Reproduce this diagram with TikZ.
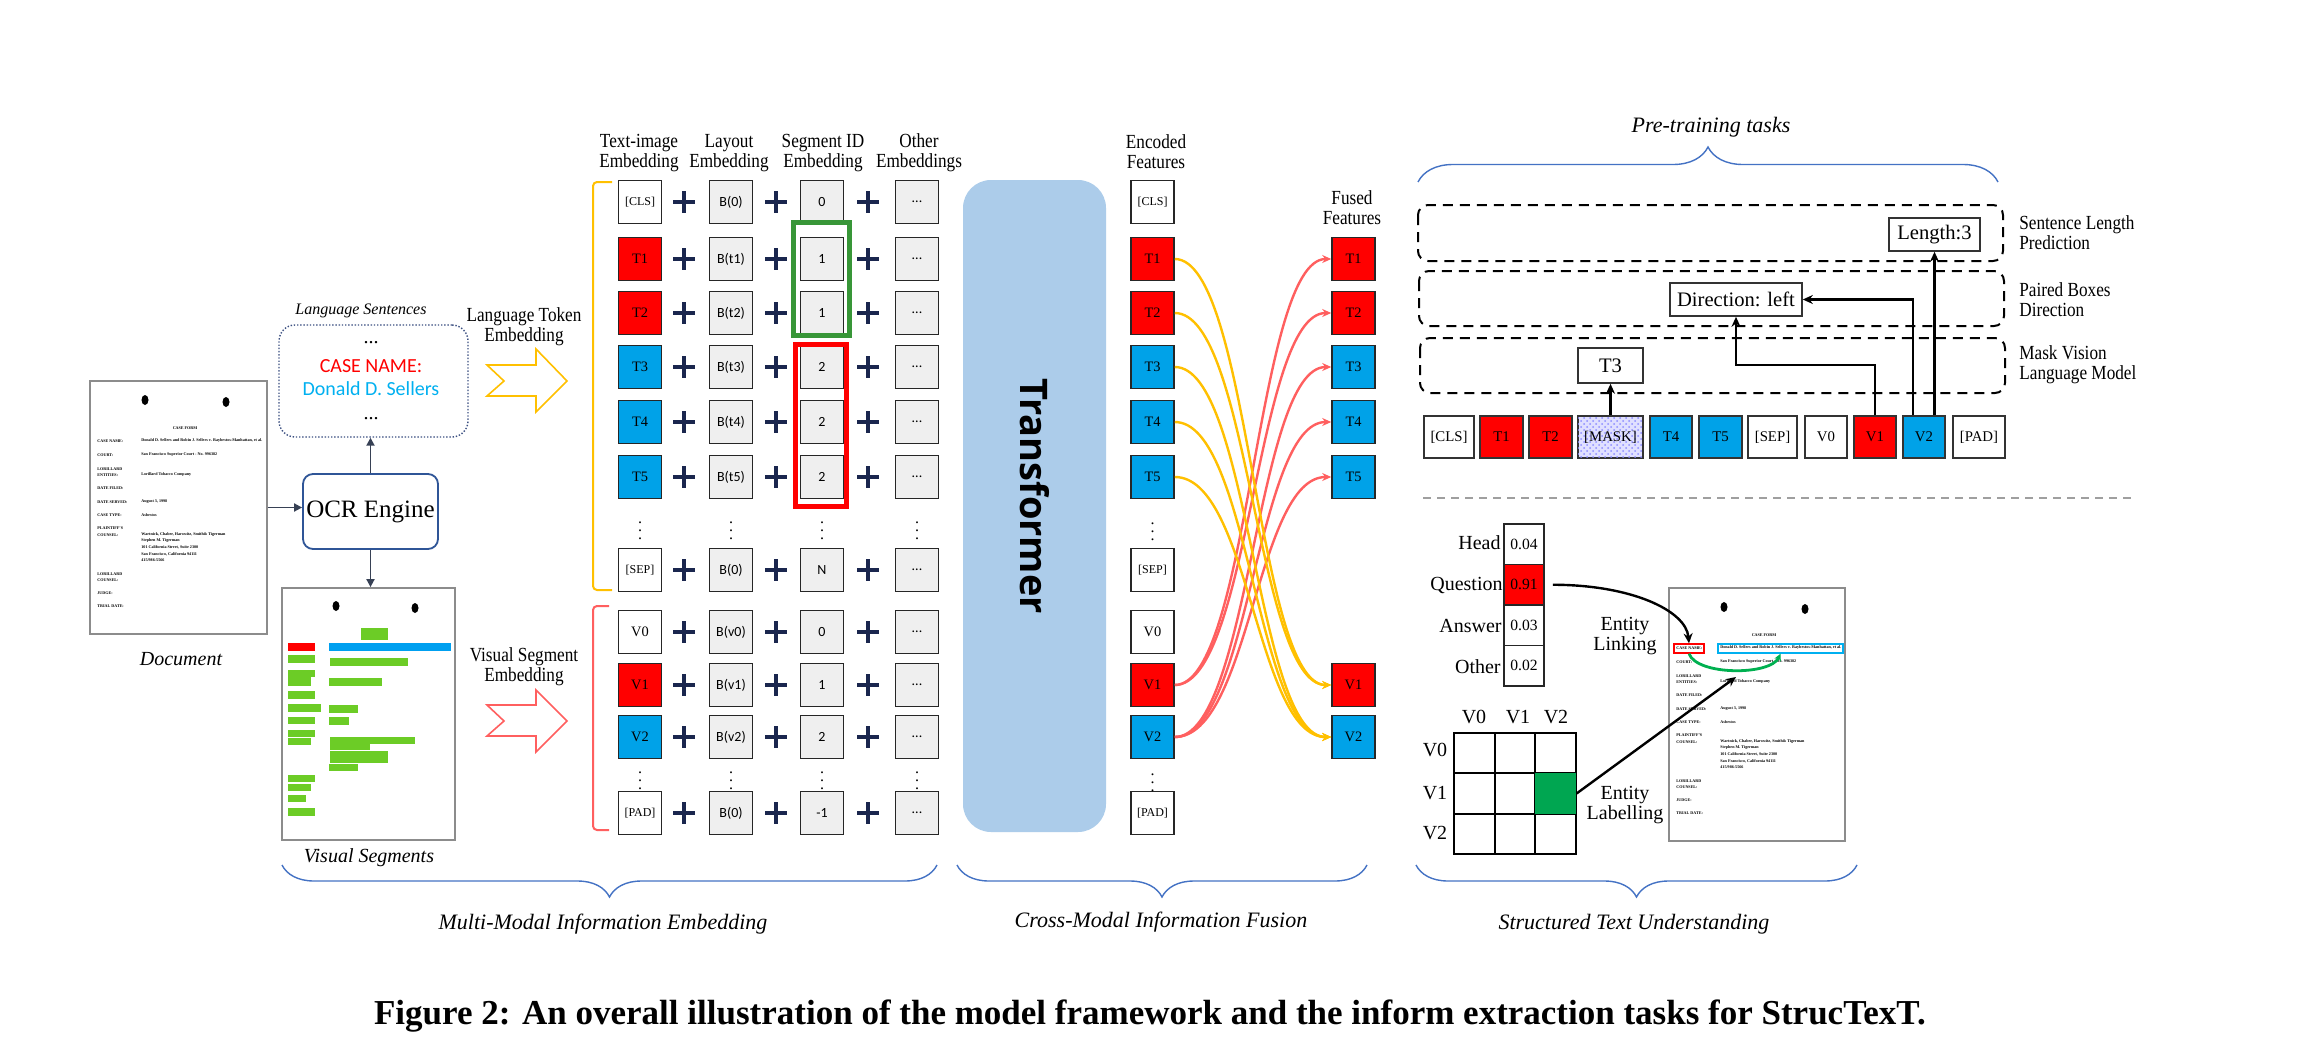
\documentclass[tikz,border=0pt]{standalone}
\usepackage{fontspec}
\setmainfont{Liberation Serif}
\newfontfamily\carlito{Carlito}
\newfontfamily\opensans{Open Sans}
\usetikzlibrary{arrows.meta,patterns,decorations.pathreplacing}

\definecolor{tokred}{RGB}{255,0,0}
\definecolor{tokblue}{RGB}{0,162,232}
\definecolor{boxgray}{RGB}{239,239,239}
\definecolor{plusnavy}{RGB}{26,38,78}
\definecolor{trblue}{RGB}{172,204,234}
\definecolor{amber}{RGB}{255,192,0}
\definecolor{salmon}{RGB}{255,95,95}
\definecolor{braceblue}{RGB}{68,114,196}
\definecolor{ocrblue}{RGB}{47,85,151}
\definecolor{slate}{RGB}{55,65,85}
\definecolor{seggreen}{RGB}{108,204,38}
\definecolor{segblue}{RGB}{0,160,240}
\definecolor{idgreen}{RGB}{56,150,56}
\definecolor{cellgreen}{RGB}{0,166,81}
\definecolor{linkgreen}{RGB}{0,176,80}
\definecolor{caseblue}{RGB}{0,176,240}
\definecolor{dotframe}{RGB}{60,80,130}

\newcommand\fs[1]{\fontsize{#1}{#1}\selectfont}

% one row of the embedding sum: token + layout + segment id + other
\newcommand\embrow[6]{%
  \node[tok, fill=#4] (t-#1) at (640,#2) {#3};
  \pic at (684,#2) {plus};
  \node[gbox] (l-#1) at (731,#2) {B(#5)};
  \pic at (776,#2) {plus};
  \node[gbox] (s-#1) at (822,#2) {#6};
  \pic at (868,#2) {plus};
  \node[gbox] (o-#1) at (917,#2) {...};
}
\newcommand\enc[4]{\node[tok, fill=#4] (e-#1) at (1152.5,#2) {#3};}
\newcommand\fus[4]{\node[tok, fill=#4] (f-#1) at (1353.5,#2) {#3};}

% scanned case form, drawn relative to its top-left corner
\newcommand\casedoc{%
  \fill (55,19) ellipse [x radius=3.5, y radius=5];
  \fill (136,21) ellipse [x radius=3.5, y radius=5];
  \node[doctxt, anchor=center] (hd) at (95,47) {CASE FORM};
  \node[doctxt] (k1) at (7,60) {CASE NAME:};
  \node[doctxt] (v1) at (51,60) {Donald D. Sellers and Robin J. Sellers v. Raybestos-Manhattan, et al.};
  \node[doctxt] (k2) at (7,74) {COURT:};
  \node[doctxt] (v2) at (51,74) {San Francisco Superior Court - No. 996382};
  \node[doctxt] (k3) at (7,88) {LORILLARD};
  \node[doctxt] (k4) at (7,94) {ENTITIES:};
  \node[doctxt] (v3) at (51,94) {Lorillard Tobacco Company};
  \node[doctxt] (k5) at (7,107) {DATE FILED:};
  \node[doctxt] (k6) at (7,121) {DATE SERVED:};
  \node[doctxt] (v4) at (51,121) {August 3, 1998};
  \node[doctxt] (k7) at (7,134) {CASE TYPE:};
  \node[doctxt] (v5) at (51,134) {Asbestos};
  \node[doctxt] (k8) at (7,147) {PLAINTIFF'S};
  \node[doctxt] (k9) at (7,154) {COUNSEL:};
  \node[doctxt] (v6) at (51,154) {Wartnick, Chaber, Harowitz, Smith\& Tigerman};
  \node[doctxt] (v7) at (51,160) {Stephen M. Tigerman};
  \node[doctxt] (v8) at (51,166) {101 California Street, Suite 2300};
  \node[doctxt] (v9) at (51,173) {San Francisco, California 94111};
  \node[doctxt] (v10) at (51,179) {415/986-5566};
  \node[doctxt] (k10) at (7,193) {LORILLARD};
  \node[doctxt] (k11) at (7,199) {COUNSEL:};
  \node[doctxt] (k12) at (7,212) {JUDGE:};
  \node[doctxt] (k13) at (7,225) {TRIAL DATE:};
}

\begin{document}
\begin{tikzpicture}[x=0.5pt,y=-0.5pt,
  lbl/.style={align=center, inner sep=0pt, font=\fs{10}, xscale=0.86},
  ital/.style={inner sep=0pt, font=\itshape\fs{11}},
  tok/.style={draw=black!85, line width=0.8pt, minimum width=21.5pt, minimum height=21.5pt, inner sep=0pt, font=\fs{7.2}},
  gbox/.style={tok, fill=boxgray, font=\carlito\fs{7}},
  ptok/.style={draw=black!80, line width=0.8pt, minimum height=21pt, inner sep=0pt, font=\fs{7.4}},
  pbox/.style={draw=black!80, line width=0.8pt, inner sep=0pt, fill=white, font=\fs{10.3}},
  parr/.style={draw=black, line width=1.2pt, -{Stealth[length=5pt,width=4.5pt]}},
  dbox/.style={draw=black, line width=1pt, dash pattern=on 5pt off 3.5pt, rounded corners=5pt},
  conn/.style={draw=slate, line width=0.9pt, -{Triangle[length=4pt,width=4pt]}},
  fuse/.style={line width=1.2pt, -{Stealth[length=4.5pt,width=4pt]}},
  brc/.style={draw=braceblue, line width=0.7pt, decorate},
  doctxt/.style={anchor=west, inner sep=0pt, font=\bfseries\fs{2.05}},
  docframe/.style={draw=black!45, line width=0.9pt, fill=white, inner sep=0pt},
  cls/.style={draw=black!85, line width=0.8pt, minimum width=20pt, minimum height=20.25pt, inner sep=0pt, font=\fs{7.8}},
  cell/.style={draw=black, line width=0.8pt, minimum size=20.25pt, inner sep=0pt},
  blk/.style={draw=black, line width=1.2pt, -{Stealth[length=5pt,width=4.5pt]}},
  plus/.pic={\draw[plusnavy, line width=1.6pt] (-11,0) -- (11,0) (0,-11) -- (0,11);}
]
\fill[white] (0,0) rectangle (2304,1060);
\useasboundingbox (0,0) rectangle (2304,1060);

% ---------------- input side ----------------
\node[docframe, minimum width=88.5pt, minimum height=126.5pt] (ldoc) at (178.5,507.5) {};
\begin{scope}[shift={(90,381)}, name prefix=ld-]
  \casedoc
\end{scope}
\node[ital, font=\itshape\fs{10}] (doclbl) at (181,659) {Document};

\node[draw=ocrblue, line width=0.9pt, rounded corners=5pt, minimum width=67.5pt, minimum height=37.5pt, inner sep=0pt, font=\fs{12.5}] (ocr) at (370.5,511.5) {OCR Engine};

\node[draw=dotframe, line width=0.7pt, dash pattern=on 0.7pt off 0.9pt, rounded corners=8pt, minimum width=94.5pt, minimum height=56pt] (lang) at (373.5,381) {};
\node[ital, font=\itshape\fs{8}] (langlbl) at (361,311) {Language Sentences};
\node[inner sep=0pt, font=\fs{10}] (ldots1) at (371,343) {...};
\node[inner sep=0pt, font=\carlito\fs{10}, text=red] (casename) at (371,366) {CASE NAME:};
\node[inner sep=0pt, font=\carlito\fs{10}, text=caseblue] (donald) at (371,389) {Donald D. Sellers};
\node[inner sep=0pt, font=\fs{10}] (ldots2) at (371,419) {...};

\node[docframe, minimum width=86.5pt, minimum height=126pt] (vis) at (368.5,714) {};
\node[ital, font=\itshape\fs{10}] (vislbl) at (369,858) {Visual Segments};
\fill (336,606) ellipse [x radius=3.5, y radius=5];
\fill (415,608) ellipse [x radius=3.5, y radius=5];
\foreach \a/\b/\c/\d in {361/628/388/640, 288/655/315/663, 288/670/315/677, 288/677/311/686,
  288/691/315/699, 288/704/321/712, 288/717/315/724, 288/730/315/737, 288/738/311/745,
  288/775/315/782, 288/784/311/791, 288/795/306/802, 288/808/315/816,
  330/658/408/666, 329/678/382/686, 329/705/358/713, 329/717/349/725,
  330/737/415/744, 330/744/370/750, 330/751/388/763, 329/764/358/771}
  \fill[seggreen] (\a,\b) rectangle (\c,\d);
\fill[red] (288,643) rectangle (315,651);
\fill[segblue] (329,643) rectangle (451,651);

\draw[conn] (ldoc.east) -- (ldoc.east -| ocr.west);
\draw[conn] (ocr.north) -- (ocr.north |- lang.south);
\draw[conn] (ocr.south) -- (ocr.south |- vis.north);

\node[lbl] (ltelbl) at (524,327) {Language Token\\Embedding};
\draw[amber, line width=0.8pt] (487,365) -- (536,365) -- (536,349) -- (567,381) -- (536,412) -- (536,396) -- (487,396) -- (504,381) -- cycle;
\node[lbl] (vselbl) at (524,667) {Visual Segment\\Embedding};
\draw[salmon, line width=0.8pt] (487,705) -- (536,705) -- (536,690) -- (567,721) -- (536,752) -- (536,736) -- (487,736) -- (504,721) -- cycle;

% ---------------- embedding sum ----------------
\node[lbl] (h1) at (639,153) {Text-image\\Embedding};
\node[lbl] (h2) at (729,153) {Layout\\Embedding};
\node[lbl] (h3) at (823,153) {Segment ID\\Embedding};
\node[lbl] (h4) at (919,153) {Other\\Embeddings};

\embrow{cls}{202}{\fs{6}[CLS]}{white}{0}{0}
\embrow{t1}{259}{T1}{tokred}{t1}{1}
\embrow{t2}{313}{T2}{tokred}{t2}{1}
\embrow{t3}{367}{T3}{tokblue}{t3}{2}
\embrow{t4}{422}{T4}{tokblue}{t4}{2}
\embrow{t5}{477}{T5}{tokblue}{t5}{2}
\embrow{sep}{570}{\fs{6}[SEP]}{white}{0}{N}
\embrow{v0}{632}{V0}{white}{v0}{0}
\embrow{v1}{685}{V1}{tokred}{v1}{1}
\embrow{v2}{737}{V2}{tokblue}{v2}{2}
\embrow{pad}{813}{\fs{6}[PAD]}{white}{0}{-1}
\foreach \x [count=\k] in {640,731,822,917}{
  \node[inner sep=0pt, font=\fs{8}] (vdA\k) at (\x,525) {$\vdots$};
  \node[inner sep=0pt, font=\fs{8}] (vdB\k) at (\x,775) {$\vdots$};
}
\draw[idgreen, line width=2.5pt] (793.5,222.5) rectangle (849.5,335.5);
\draw[red, line width=2.5pt] (795.5,344.5) rectangle (846.5,506.5);
\draw[amber, line width=1pt, rounded corners=2pt] (612,182) -- (593,182) -- (593,590) -- (612,590);
\draw[salmon, line width=1pt, rounded corners=2pt] (609,606) -- (593,606) -- (593,830) -- (609,830);

% ---------------- transformer and fusion ----------------
\node[fill=trblue, rounded corners=14pt, minimum width=71.5pt, minimum height=326pt, inner sep=0pt] (trans) at (1034.5,506) {};
\node[rotate=-90, inner sep=0pt, font=\opensans\bfseries\fs{19}] (translbl) at (1035,496) {Transformer};

\node[lbl] (enclbl) at (1156,152) {Encoded\\Features};
\enc{cls}{202}{\fs{6}[CLS]}{white}
\enc{t1}{259}{T1}{tokred}
\enc{t2}{313}{T2}{tokred}
\enc{t3}{367}{T3}{tokblue}
\enc{t4}{422}{T4}{tokblue}
\enc{t5}{477}{T5}{tokblue}
\enc{sep}{570}{\fs{6}[SEP]}{white}
\enc{v0}{632}{V0}{white}
\enc{v1}{685}{V1}{tokred}
\enc{v2}{737}{V2}{tokblue}
\enc{pad}{813}{\fs{6}[PAD]}{white}
\node[inner sep=0pt, font=\fs{8}] (evdA) at (1152.5,526) {$\vdots$};
\node[inner sep=0pt, font=\fs{8}] (evdB) at (1152.5,777) {$\vdots$};

\node[lbl] (fuslbl) at (1352,208) {Fused\\Features};
\fus{t1}{259}{T1}{tokred}
\fus{t2}{313}{T2}{tokred}
\fus{t3}{367}{T3}{tokblue}
\fus{t4}{422}{T4}{tokblue}
\fus{t5}{477}{T5}{tokblue}
\fus{v1}{685}{V1}{tokred}
\fus{v2}{737}{V2}{tokblue}

\foreach \s/\t in {v1/t1, v1/t2, v2/t3, v2/t4, v2/t5}
  \draw[fuse, salmon] (e-\s.east) .. controls +(75,0) and +(-75,0) .. (f-\t.west);
\foreach \s/\t in {t1/v1, t2/v1, t3/v2, t4/v2, t5/v2}
  \draw[fuse, amber] (e-\s.east) .. controls +(75,0) and +(-75,0) .. (f-\t.west);

% ---------------- pre-training tasks ----------------
\node[ital] (ptlbl) at (1711,127) {Pre-training tasks};
\draw[brc, decoration={brace, amplitude=17.5pt}] (1418,182) -- (1998,182);

\draw[dbox] (1418,205) rectangle (2003,261);
\draw[dbox] (1419,271) rectangle (2004,326);
\draw[dbox] (1420,338) rectangle (2005,393);
\node[lbl, anchor=west, align=left] (task1) at (2019,233) {Sentence Length\\Prediction};
\node[lbl, anchor=west, align=left] (task2) at (2019,300) {Paired Boxes\\Direction};
\node[lbl, anchor=west, align=left] (task3) at (2019,365) {Mask Vision\\Language Model};

\node[ptok, minimum width=25pt, fill=white] (p-cls) at (1449,437) {[CLS]};
\node[ptok, minimum width=21.5pt, fill=tokred] (p-t1) at (1501.5,437) {T1};
\node[ptok, minimum width=21.5pt, fill=tokred] (p-t2) at (1550.5,437) {T2};
\node[ptok, minimum width=32.5pt, fill=blue!12, postaction={pattern=crosshatch dots, pattern color=blue!45}] (p-mask) at (1610.5,437) {[MASK]};
\node[ptok, minimum width=21pt, fill=tokblue] (p-t4) at (1671,437) {T4};
\node[ptok, minimum width=21.5pt, fill=tokblue] (p-t5) at (1720.5,437) {T5};
\node[ptok, minimum width=24.5pt, fill=white] (p-sep) at (1772.5,437) {[SEP]};
\node[ptok, minimum width=21pt, fill=white] (p-v0) at (1826,437) {V0};
\node[ptok, minimum width=21pt, fill=tokred] (p-v1) at (1875,437) {V1};
\node[ptok, minimum width=21pt, fill=tokblue] (p-v2) at (1924,437) {V2};
\node[ptok, minimum width=26pt, fill=white] (p-pad) at (1979,437) {[PAD]};

\node[pbox, minimum width=32.5pt, minimum height=17.5pt] (t3b) at (1610.5,365.5) {T3};
\node[pbox, minimum width=66pt, minimum height=16.5pt] (dir) at (1736,299.5) {Direction: left};
\node[pbox, minimum width=45.5pt, minimum height=16.5pt] (len) at (1934.5,234.5) {Length:3};

\draw[parr] (p-mask.north) -- (t3b.south);
\draw[parr] (p-v1.north) -- ++(0,-50) -| (dir.south);
\draw[parr] ([xshift=-5.5pt]p-v2.north) |- (dir.east);
\draw[parr] ([xshift=5.25pt]p-v2.north) -- ([xshift=5.25pt]p-v2.north |- len.south);

% ---------------- structured text understanding ----------------
\draw[gray!75, line width=1pt, dash pattern=on 4pt off 3pt] (1423,498) -- (2132,498);

\node[cls] (q1) at (1524,544.25) {0.04};
\node[cls, fill=tokred] (q2) at (1524,584.75) {0.91};
\node[cls] (q3) at (1524,625.25) {0.03};
\node[cls] (q4) at (1524,665.75) {0.02};
\node[inner sep=0pt, anchor=east, font=\fs{10}] (qn1) at (1501,543) {Head};
\node[inner sep=0pt, anchor=east, font=\fs{10}] (qn2) at (1503,585) {Question};
\node[inner sep=0pt, anchor=east, font=\fs{10}] (qn3) at (1502,626) {Answer};
\node[inner sep=0pt, anchor=east, font=\fs{10}] (qn4) at (1501,667) {Other};

\foreach \r/\y in {1/753,2/793.5,3/834}
  \foreach \c/\x in {1/1474.5,2/1515,3/1555.5}
    \node[cell] (g-\r-\c) at (\x,\y) {};
\fill[cellgreen] (g-2-3.south west) rectangle (g-2-3.north east);
\draw[line width=0.8pt] (g-2-3.south west) rectangle (g-2-3.north east);
\node[inner sep=0pt, font=\fs{10}] (gc1) at (1474,717) {V0};
\node[inner sep=0pt, font=\fs{10}] (gc2) at (1518,717) {V1};
\node[inner sep=0pt, font=\fs{10}] (gc3) at (1556,717) {V2};
\node[inner sep=0pt, font=\fs{10}] (gr1) at (1435,750) {V0};
\node[inner sep=0pt, font=\fs{10}] (gr2) at (1435,793) {V1};
\node[inner sep=0pt, font=\fs{10}] (gr3) at (1435,833) {V2};

\node[inner sep=0pt, align=center, font=\fs{10}] (elink) at (1625,636) {Entity\\Linking};
\node[inner sep=0pt, align=center, font=\fs{10}] (elab) at (1625,805) {Entity\\Labelling};

\node[docframe, minimum width=88pt, minimum height=126.5pt] (rdoc) at (1757,714.5) {};
\begin{scope}[shift={(1669,588)}, name prefix=rd-]
  \casedoc
\end{scope}
\node[draw=red, line width=0.7pt, minimum width=15pt, minimum height=4.5pt, inner sep=0pt] (caselab) at (1689,648.5) {};
\node[draw=caseblue, line width=0.7pt, minimum width=62.5pt, minimum height=4.5pt, inner sep=0pt] (caseval) at (1780.5,648.5) {};
\draw[linkgreen, line width=1.4pt, -{Stealth[length=3.5pt,width=3.5pt]}] (caselab.south) .. controls +(8,22) and +(-10,22) .. (caseval.south);
\draw[blk] ([xshift=4pt]q2.east) .. controls +(78,0) and +(-3,-33) .. (caselab.north);
\coordinate (lblend) at (1736,677);
\draw[blk] (g-2-3.east) -- (lblend);

% ---------------- section braces ----------------
\draw[brc, decoration={brace, amplitude=16pt}] (937,865) -- (282,865);
\draw[brc, decoration={brace, amplitude=16pt}] (1367,865) -- (957,865);
\draw[brc, decoration={brace, amplitude=16pt}] (1857,865) -- (1416,865);
\node[ital] (sec1) at (603,924) {Multi-Modal Information Embedding};
\node[ital] (sec2) at (1161,922) {Cross-Modal Information Fusion};
\node[ital] (sec3) at (1634,924) {Structured Text Understanding};

\node[inner sep=0pt, font=\bfseries\fs{17.5}] (title) at (1150,1016) {Figure 2: An overall illustration of the model framework and the inform extraction tasks for StrucTexT.};
\end{tikzpicture}
\end{document}
